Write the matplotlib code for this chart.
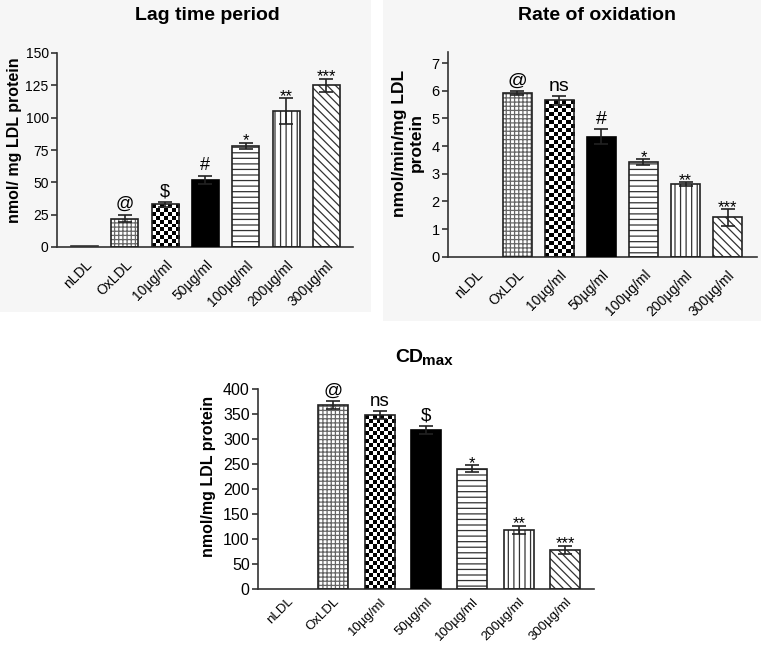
import numpy as np
import matplotlib
matplotlib.use("Agg")
import matplotlib.pyplot as plt
from matplotlib.patches import Rectangle

plt.rcParams['font.family'] = ['Liberation Sans', 'DejaVu Sans']
plt.rcParams['hatch.linewidth'] = 0.9

# ---------------- data ----------------
categories = ['nLDL', 'OxLDL', '10µg/ml', '50µg/ml', '100µg/ml', '200µg/ml', '300µg/ml']

lag_values = [0.5, 22, 33, 52, 78, 105, 125]
lag_errors = [0, 3, 2, 3, 2.5, 10, 5]
lag_marks = ['', '@', '$', '#', '*', '**', '***']

rate_values = [0, 5.92, 5.65, 4.33, 3.42, 2.62, 1.42]
rate_errors = [0, 0.07, 0.15, 0.27, 0.10, 0.07, 0.30]
rate_marks = ['', '@', 'ns', '#', '*', '**', '***']

cd_values = [0, 368, 348, 318, 240, 118, 78]
cd_errors = [0, 8, 8, 8, 7, 8, 8]
cd_marks = ['', '@', 'ns', '$', '*', '**', '***']

# styles per bar: (kind, hatch)
styles = [('plain', None), ('hatch', '++++'), ('checker', None), ('black', None),
          ('hatch', '---'), ('hatch', '|||'), ('hatch', '\\\\\\\\')]

fig = plt.figure(figsize=(7.61, 6.46), dpi=100)

# light gray panel backgrounds for the top two panels
fig.patches.append(Rectangle((0, 1 - 312 / 646), 371 / 761, 312 / 646,
                             transform=fig.transFigure, facecolor='#f6f6f6',
                             edgecolor='none', zorder=-10))
fig.patches.append(Rectangle((383 / 761, 1 - 321 / 646), (761 - 383) / 761, 321 / 646,
                             transform=fig.transFigure, facecolor='#f6f6f6',
                             edgecolor='none', zorder=-10))


def panel(rect, xlim, ylim, yticks, values, errors, marks, width, ticksize, symsize,
          xlabsize=10, xpad=8):
    ax = fig.add_axes(rect)
    ax.set_facecolor('none')
    ax.set_xlim(*xlim)
    ax.set_ylim(*ylim)
    x = np.arange(len(categories))
    vals = np.asarray(values, float)
    errs = np.asarray(errors, float)
    for i, (kind, hatch) in enumerate(styles):
        v = vals[i]
        if v <= 0:
            continue
        if kind == 'plain':
            ax.bar(x[i], v, width, facecolor='white', edgecolor='#333333', linewidth=1.2, zorder=3)
        elif kind == 'black':
            ax.bar(x[i], v, width, facecolor='black', edgecolor='black', linewidth=1.2, zorder=3)
        elif kind == 'hatch':
            hc = '#666666' if hatch.startswith('+') else '#333333'
            ax.bar(x[i], v, width, facecolor='white', edgecolor=hc, hatch=hatch, linewidth=0, zorder=2)
            ax.bar(x[i], v, width, fill=False, edgecolor='#222222', linewidth=1.2, zorder=3)
        elif kind == 'checker':
            p0 = ax.transData.transform((x[i] - width / 2, 0))
            p1 = ax.transData.transform((x[i] + width / 2, v))
            cell = 4.0
            nx = max(1, int(round((p1[0] - p0[0]) / cell)))
            ny = max(1, int(round((p1[1] - p0[1]) / cell)))
            img = np.indices((ny, nx)).sum(0) % 2
            ax.imshow(img, cmap='gray', extent=(x[i] - width / 2, x[i] + width / 2, 0, v),
                      aspect='auto', interpolation='nearest', zorder=2)
            ax.bar(x[i], v, width, fill=False, edgecolor='#222222', linewidth=1.2, zorder=3)
    ax.set_xlim(*xlim)
    ax.set_ylim(*ylim)
    m = errs > 0
    ax.errorbar(x[m], vals[m], yerr=errs[m], fmt='none', ecolor='#222222',
                elinewidth=1.2, capsize=5, capthick=1.2, zorder=4, clip_on=False)
    for i, s in enumerate(marks):
        if not s:
            continue
        star = s.startswith('*')
        ax.annotate(s, (x[i], vals[i] + errs[i]), xytext=(0, -4 if star else 1),
                    textcoords='offset points', ha='center', va='bottom',
                    fontsize=12 if star else symsize, color='black', zorder=5,
                    annotation_clip=False)
    for sp in ['top', 'right']:
        ax.spines[sp].set_visible(False)
    for sp in ['left', 'bottom']:
        ax.spines[sp].set_linewidth(1.2)
        ax.spines[sp].set_color('#333333')
    ax.set_yticks(yticks)
    ax.tick_params(axis='y', length=4, width=1.2, color='#333333', labelsize=ticksize, pad=2)
    ax.set_xticks(x)
    ax.set_xticklabels(categories, rotation=45, ha='right', rotation_mode='anchor',
                       fontsize=xlabsize)
    ax.tick_params(axis='x', length=0, pad=xpad)
    return ax


# Panel 1: Lag time period
ax1 = panel([57 / 761, 1 - 247 / 646, 296 / 761, 194 / 646], (-0.68, 6.66), (0, 150),
            [0, 25, 50, 75, 100, 125, 150], lag_values, lag_errors, lag_marks, 0.67, 10, 13)
fig.text(207 / 761, 1 - 16 / 646, 'Lag time period', ha='center', va='center',
         fontsize=14, fontweight='bold')
fig.text(15 / 761, 1 - 140 / 646, 'nmol/ mg LDL protein', rotation=90, ha='center',
         va='center', fontsize=11.5, fontweight='bold')

# Panel 2: Rate of oxidation
ax2 = panel([448 / 761, 1 - 256.7 / 646, 309 / 761, 204.7 / 646], (-0.65, 6.7), (0, 7.4),
            [0, 1, 2, 3, 4, 5, 6, 7], rate_values, rate_errors, rate_marks, 0.69, 10.5, 14)
fig.text(597 / 761, 1 - 16 / 646, 'Rate of oxidation', ha='center', va='center',
         fontsize=14, fontweight='bold')
fig.text(408 / 761, 1 - 143 / 646, 'nmol/min/mg LDL\nprotein', rotation=90, ha='center',
         va='center', fontsize=12.5, fontweight='bold', multialignment='center',
         linespacing=1.1)

# Panel 3: CDmax
ax3 = panel([258 / 761, 1 - 588.7 / 646, 336 / 761, 199.7 / 646], (-0.62, 6.62), (0, 400),
            [0, 50, 100, 150, 200, 250, 300, 350, 400], cd_values, cd_errors, cd_marks, 0.65,
            11.5, 13.5, xlabsize=9.5, xpad=5)
fig.text(395 / 761, 1 - 362 / 646, 'CD', ha='left', va='baseline',
         fontsize=14, fontweight='bold')
fig.text(422 / 761, 1 - 365 / 646, 'max', ha='left', va='baseline',
         fontsize=11, fontweight='bold')
fig.text(208 / 761, 1 - 476 / 646, 'nmol/mg LDL protein', rotation=90, ha='center',
         va='center', fontsize=11.5, fontweight='bold')

fig.savefig('out.png', dpi=100)
